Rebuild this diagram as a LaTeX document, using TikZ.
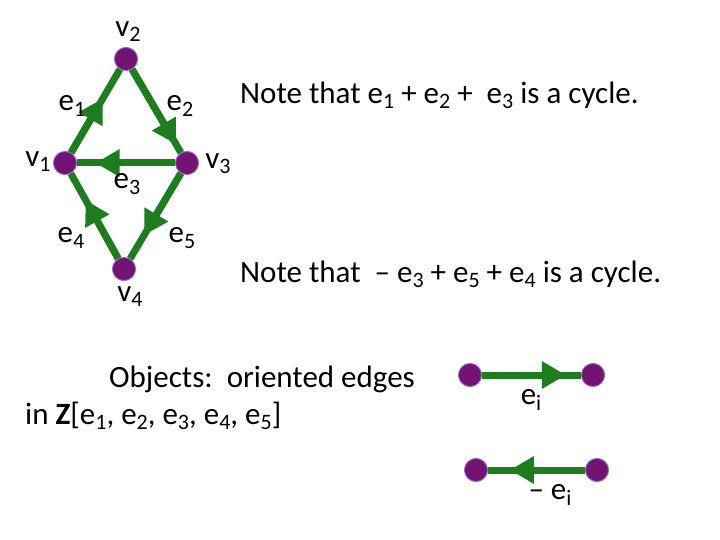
\documentclass[tikz,border=0pt]{standalone}
\usepackage{fontspec}
\setmainfont{Carlito}
\usetikzlibrary{arrows.meta,calc}
\definecolor{edgegreen}{RGB}{30,125,30}
\definecolor{vertpurple}{RGB}{115,20,115}
\newcommand\lo[1]{\raisebox{-0.35ex}{\fontsize{22}{24}\selectfont #1}}
\tikzset{
  vert/.style={circle,fill=vertpurple,draw=vertpurple!60!blue!60,line width=0.8pt,inner sep=0pt,minimum size=23pt},
  edge/.style={edgegreen,line width=7pt},
  tip/.style={edgegreen,line width=7pt,-{Triangle[length=24pt,width=26pt]}},
  lab/.style={font=\fontsize{31}{34}\selectfont,inner sep=0pt}
}
\begin{document}
\begin{tikzpicture}[x=1pt,y=-1pt]
  \useasboundingbox (0,0) rectangle (720,540);

  % graph
  \node[vert] (v2) at (126,59) {};
  \node[vert] (v1) at (65,163) {};
  \node[vert] (v3) at (187,163) {};
  \node[vert] (v4) at (124,269) {};

  \draw[edge] (v1) -- (v2);
  \draw[edge] (v2) -- (v3);
  \draw[edge] (v3) -- (v1);
  \draw[edge] (v4) -- (v1);
  \draw[edge] (v3) -- (v4);
  \draw[tip] (v1) -- ($(v1)!0.62!(v2)$);
  \draw[tip] (v2) -- ($(v2)!0.82!(v3)$);
  \draw[tip] (v3) -- ($(v3)!0.75!(v1)$);
  \draw[tip] (v4) -- ($(v4)!0.65!(v1)$);
  \draw[tip] (v3) -- ($(v3)!0.68!(v4)$);

  \node[vert] at (v1) {};
  \node[vert] at (v2) {};
  \node[vert] at (v3) {};
  \node[vert] at (v4) {};

  \node[lab] at (128,32) {v\lo{2}};
  \node[lab] at (38,162) {v\lo{1}};
  \node[lab] at (218,164) {v\lo{3}};
  \node[lab] at (130,297) {v\lo{4}};
  \node[lab] at (72,106) {e\lo{1}};
  \node[lab] at (180,106) {e\lo{2}};
  \node[lab] at (127,184) {e\lo{3}};
  \node[lab] at (71,238) {e\lo{4}};
  \node[lab] at (182,238) {e\lo{5}};

  % notes
  \node[lab,anchor=west] at (240,95) {Note that e\lo{1} + e\lo{2} +\ \ e\lo{3} is a cycle.};
  \node[lab,anchor=west] at (240,274) {Note that\ \ -- e\lo{3} + e\lo{5} + e\lo{4} is a cycle.};
  \node[lab] at (262,379) {Objects:\ \ oriented edges};
  \node[lab,anchor=west] at (25,416) {in \textbf{Z}[e\lo{1}, e\lo{2}, e\lo{3}, e\lo{4}, e\lo{5}]};

  % oriented edge legend
  \node[vert] (p1) at (470,375) {};
  \node[vert] (p2) at (593,375) {};
  \draw[edge] (p1) -- (p2);
  \draw[tip] (p1) -- ($(p1)!0.78!(p2)$);
  \node[vert] at (p1) {};
  \node[vert] at (p2) {};
  \node[lab] at (531,400) {e\lo{i}};

  \node[vert] (q1) at (476,470) {};
  \node[vert] (q2) at (597,470) {};
  \draw[edge] (q1) -- (q2);
  \draw[tip] (q2) -- ($(q2)!0.72!(q1)$);
  \node[vert] at (q1) {};
  \node[vert] at (q2) {};
  \node[lab] at (550,495) {-- e\lo{i}};
\end{tikzpicture}
\end{document}
